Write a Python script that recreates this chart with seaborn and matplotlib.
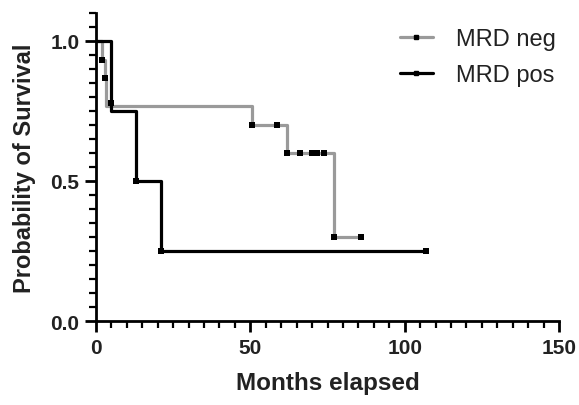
import matplotlib
matplotlib.use("Agg")
import matplotlib.pyplot as plt
import seaborn as sns
import pandas as pd
from matplotlib.ticker import MultipleLocator
from matplotlib.lines import Line2D

# Kaplan-Meier step data
neg_time = [0, 1.8, 2.9, 3.4, 50.5, 62, 77, 86]
neg_surv = [1.0, 0.933, 0.867, 0.767, 0.70, 0.60, 0.30, 0.30]
pos_time = [0, 5, 13, 21, 107]
pos_surv = [1.0, 0.75, 0.50, 0.25, 0.25]

# censor / tick marks
neg_mark_t = [1.8, 2.9, 5, 50.5, 58.5, 62, 66, 70, 71.5, 74, 77, 86]
neg_mark_s = [0.933, 0.867, 0.78, 0.70, 0.70, 0.60, 0.60, 0.60, 0.60, 0.60, 0.30, 0.30]
pos_mark_t = [13, 21, 107]
pos_mark_s = [0.50, 0.25, 0.25]

labels = ["MRD neg", "MRD pos"]
colors = ["#9a9a9a", "#000000"]

sns.set_theme(style="ticks")
plt.rcParams["font.family"] = ["Liberation Sans", "DejaVu Sans"]

fig = plt.figure(figsize=(5.79, 4.06), dpi=100)
ax = fig.add_axes([96 / 579, 1 - 322 / 406, (559 - 96) / 579, (322 - 14) / 406])

df = pd.concat([
    pd.DataFrame({"t": neg_time, "s": neg_surv, "g": labels[0]}),
    pd.DataFrame({"t": pos_time, "s": pos_surv, "g": labels[1]}),
])
sns.lineplot(data=df, x="t", y="s", hue="g", palette=colors, estimator=None,
             sort=False, drawstyle="steps-post", linewidth=2.3, ax=ax, legend=False)

marks = pd.concat([
    pd.DataFrame({"t": neg_mark_t, "s": neg_mark_s}),
    pd.DataFrame({"t": pos_mark_t, "s": pos_mark_s}),
])
sns.scatterplot(data=marks, x="t", y="s", marker="s", s=13, color="black",
                edgecolor="black", linewidth=0, ax=ax, zorder=5, legend=False)

ax.set_xlim(0, 150)
ax.set_ylim(0, 1.1)
ax.xaxis.set_major_locator(MultipleLocator(50))
ax.xaxis.set_minor_locator(MultipleLocator(5))
ax.yaxis.set_major_locator(MultipleLocator(0.5))
ax.yaxis.set_minor_locator(MultipleLocator(0.05))
ax.set_yticks([0, 0.5, 1.0])
ax.set_yticklabels(["0.0", "0.5", "1.0"])
ax.set_xticks([0, 50, 100, 150])

for sp in ["top", "right"]:
    ax.spines[sp].set_visible(False)
for sp in ["left", "bottom"]:
    ax.spines[sp].set_linewidth(2)
    ax.spines[sp].set_color("black")
ax.spines["left"].set_bounds(0, 1.1)

ax.tick_params(axis="both", which="major", length=8, width=2, color="black",
               labelsize=15, pad=4)
ax.tick_params(axis="both", which="minor", length=5, width=1.6, color="black")
for lab in ax.get_xticklabels() + ax.get_yticklabels():
    lab.set_fontweight("bold")
    lab.set_color("#222222")

ax.set_xlabel("Months elapsed", fontsize=17.5, fontweight="bold", color="#222222", labelpad=10)
ax.set_ylabel("Probability of Survival", fontsize=17, fontweight="bold", color="#222222", labelpad=10)

handles = [
    Line2D([0], [0], color=colors[0], lw=2.3, marker="s", markersize=3.5,
           markerfacecolor="black", markeredgecolor="black"),
    Line2D([0], [0], color=colors[1], lw=2.3, marker="s", markersize=3.5,
           markerfacecolor="black", markeredgecolor="black"),
]
leg = ax.legend(handles, labels, loc="upper right", bbox_to_anchor=(1.04, 1.02),
                frameon=False, fontsize=17, handlelength=1.4, labelspacing=0.6,
                handletextpad=1.0)
for t in leg.get_texts():
    t.set_color("#222222")

fig.savefig("out.png", dpi=100)
